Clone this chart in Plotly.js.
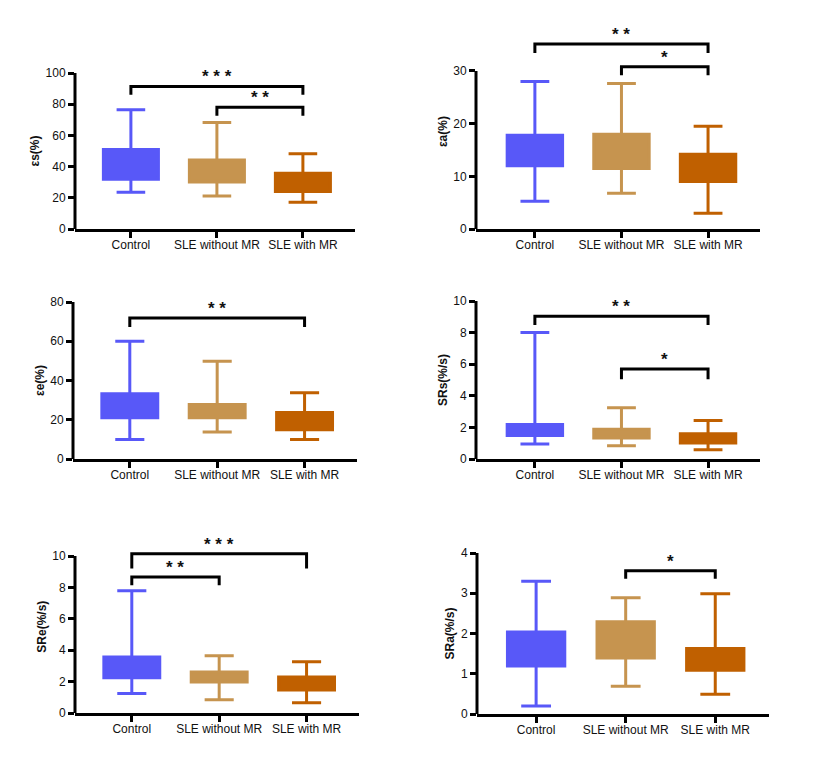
<!DOCTYPE html>
<html>
<head>
<meta charset="utf-8">
<script src="https://cdn.plot.ly/plotly-3.0.1.min.js"></script>
<style>html,body{margin:0;padding:0;background:#fff;}#chart{width:830px;height:765px;}</style>
</head>
<body>
<div id="chart"></div>
<script>
// ---------- data ----------
const categories = ['Control', 'SLE without MR', 'SLE with MR'];

// εs(%)
const esUpper = [76.4, 68.3, 48.2];
const esQ3    = [51.0, 44.3, 35.8];
const esQ1    = [31.9, 30.2, 24.0];
const esLower = [23.5, 21.2, 17.1];
const esTicks = [0, 20, 40, 60, 80, 100];

// εa(%)
const eaUpper = [28.0, 27.6, 19.5];
const eaQ3    = [17.8, 18.0, 14.2];
const eaQ1    = [12.0, 11.5, 9.0];
const eaLower = [5.25, 6.8, 3.0];
const eaTicks = [0, 10, 20, 30];

// εe(%)
const eeUpper = [60.0, 49.8, 33.7];
const eeQ3    = [33.2, 27.8, 23.7];
const eeQ1    = [21.0, 21.0, 14.9];
const eeLower = [10.0, 13.7, 10.0];
const eeTicks = [0, 20, 40, 60, 80];

// SRs(%/s)
const srsUpper = [8.0, 3.25, 2.43];
const srsQ3    = [2.19, 1.88, 1.60];
const srsQ1    = [1.48, 1.33, 1.01];
const srsLower = [0.95, 0.84, 0.59];
const srsTicks = [0, 2, 4, 6, 8, 10];

// SRe(%/s)
const sreUpper = [7.78, 3.64, 3.26];
const sreQ3    = [3.56, 2.61, 2.29];
const sreQ1    = [2.25, 1.97, 1.46];
const sreLower = [1.25, 0.85, 0.66];
const sreTicks = [0, 2, 4, 6, 8, 10];

// SRa(%/s)
const sraUpper = [3.30, 2.89, 2.99];
const sraQ3    = [2.04, 2.29, 1.63];
const sraQ1    = [1.19, 1.39, 1.09];
const sraLower = [0.20, 0.69, 0.49];
const sraTicks = [0, 1, 2, 3, 4];

// significance comparisons: [fromIndex, toIndex, label]
const esSig  = [[0, 2, '***'], [1, 2, '**']];
const eaSig  = [[0, 2, '**'], [1, 2, '*']];
const eeSig  = [[0, 2, '**']];
const srsSig = [[0, 2, '**'], [1, 2, '*']];
const sreSig = [[0, 1, '**'], [0, 2, '***']];
const sraSig = [[1, 2, '*']];

// ---------- style / positions ----------
const colors = ['#5858F8', '#C6944F', '#C06000'];
const W = 830, H = 765;

const panels = [
  {title: 'εs(%)',    upper: esUpper,  q3: esQ3,  q1: esQ1,  lower: esLower,  ticks: esTicks,  sig: esSig,
   px: [75, 354.5], py: [73, 229],   yr: [0, 100], xr: [-0.65, 2.6], br: [[91.4, 86.0], [78.0, 72.6]]},
  {title: 'εa(%)',    upper: eaUpper,  q3: eaQ3,  q1: eaQ1,  lower: eaLower,  ticks: eaTicks,  sig: eaSig,
   px: [476, 760],  py: [34.1, 229], yr: [0, 37],  xr: [-0.68, 2.6], br: [[35.1, 33.4], [30.8, 29.2]]},
  {title: 'εe(%)',    upper: eeUpper,  q3: eeQ3,  q1: eeQ1,  lower: eeLower,  ticks: eeTicks,  sig: eeSig,
   px: [73, 357],   py: [302, 459],  yr: [0, 80],  xr: [-0.65, 2.6], br: [[71.9, 67.3]]},
  {title: 'SRs(%/s)', upper: srsUpper, q3: srsQ3, q1: srsQ1, lower: srsLower, ticks: srsTicks, sig: srsSig,
   px: [476, 760],  py: [301, 459],  yr: [0, 10],  xr: [-0.68, 2.6], br: [[9.03, 8.48], [5.7, 5.04]]},
  {title: 'SRe(%/s)', upper: sreUpper, q3: sreQ3, q1: sreQ1, lower: sreLower, ticks: sreTicks, sig: sreSig,
   px: [75, 359],   py: [540.3, 713], yr: [0, 11], xr: [-0.65, 2.6], br: [[8.67, 8.13], [10.15, 9.2]]},
  {title: 'SRa(%/s)', upper: sraUpper, q3: sraQ3, q1: sraQ1, lower: sraLower, ticks: sraTicks, sig: sraSig,
   px: [477, 769],  py: [553, 714],  yr: [0, 4],   xr: [-0.66, 2.6], br: [[3.56, 3.36]]}
];

const FONT = 'Liberation Sans, Arial, sans-serif';
const traces = [];
const layout = {
  width: W, height: H,
  margin: {l: 0, r: 0, t: 0, b: 0},
  paper_bgcolor: '#fff', plot_bgcolor: 'rgba(0,0,0,0)',
  showlegend: false,
  font: {family: FONT, size: 12, color: '#111'},
  shapes: [], annotations: []
};

panels.forEach((p, i) => {
  const s = i === 0 ? '' : String(i + 1);
  const xa = 'x' + s, ya = 'y' + s;
  categories.forEach((c, k) => {
    traces.push({
      type: 'box', xaxis: xa, yaxis: ya,
      x: [k], q1: [p.q1[k]], median: [p.q1[k]], q3: [p.q3[k]],
      lowerfence: [p.lower[k]], upperfence: [p.upper[k]],
      fillcolor: colors[k], line: {color: colors[k], width: 3},
      width: 0.64, whiskerwidth: 0.52, boxpoints: false, hoverinfo: 'skip', name: c
    });
  });
  layout['xaxis' + s] = {
    anchor: ya, domain: [p.px[0] / W, p.px[1] / W], range: p.xr,
    tickvals: [0, 1, 2], ticktext: categories,
    showline: true, linecolor: '#000', linewidth: 3,
    ticks: 'outside', ticklen: 6, tickwidth: 3, tickcolor: '#000',
    ticklabelstandoff: -3,
    showgrid: false, zeroline: false, fixedrange: true,
    tickfont: {family: FONT, size: 12, color: '#111'}
  };
  layout['yaxis' + s] = {
    anchor: xa, domain: [1 - p.py[1] / H, 1 - p.py[0] / H], range: p.yr,
    tickvals: p.ticks, ticks: 'outside', ticklen: 6, tickwidth: 3, tickcolor: '#000',
    showline: false, showgrid: false, zeroline: false, fixedrange: true,
    tickfont: {family: FONT, size: 12, color: '#111'},
    title: {text: p.title, font: {family: FONT, size: 12, color: '#111', weight: 'bold'}, standoff: 3}
  };
  // y axis line from 0 to the last tick
  layout.shapes.push({
    type: 'line', xref: xa + ' domain', yref: ya,
    x0: 0, x1: 0, y0: p.ticks[0], y1: p.ticks[p.ticks.length - 1],
    line: {color: '#000', width: 3}
  });
  // significance brackets
  p.sig.forEach((sg, j) => {
    const [a, b, lab] = sg;
    const [top, end] = p.br[j];
    layout.shapes.push({
      type: 'path', xref: xa, yref: ya,
      path: `M ${a},${end} L ${a},${top} L ${b},${top} L ${b},${end}`,
      line: {color: '#000', width: 3}
    });
    layout.annotations.push({
      xref: xa, yref: ya, x: (a + b) / 2, y: top, yanchor: 'bottom', xanchor: 'center',
      yshift: -2,
      text: lab.split('').join(' '), showarrow: false,
      font: {family: FONT, size: 17, color: '#111', weight: 'bold'}
    });
  });
});

Plotly.newPlot('chart', traces, layout, {staticPlot: true, displayModeBar: false});
</script>
</body>
</html>
